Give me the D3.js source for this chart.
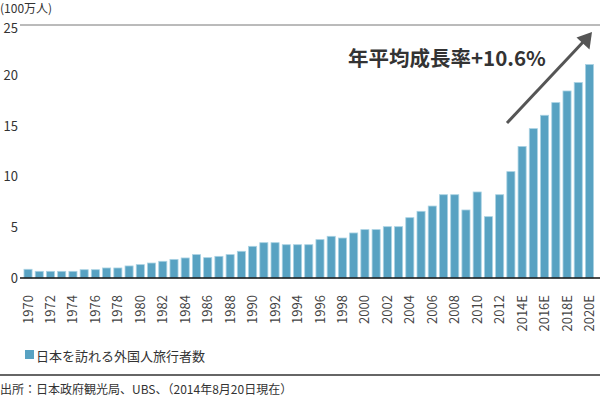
<!DOCTYPE html>
<html>
<head>
<meta charset="utf-8">
<script src="https://cdn.jsdelivr.net/npm/d3@7"></script>
<style>
  body { margin: 0; background: #fff; }
  svg { display: block; font-family: "Noto Sans CJK JP", "Noto Sans", sans-serif; }
</style>
</head>
<body>
<svg id="chart" width="600" height="397"></svg>
<script>
// categories (years), E = estimate
const categories = ["1970","1971","1972","1973","1974","1975","1976","1977","1978","1979",
  "1980","1981","1982","1983","1984","1985","1986","1987","1988","1989",
  "1990","1991","1992","1993","1994","1995","1996","1997","1998","1999",
  "2000","2001","2002","2003","2004","2005","2006","2007","2008","2009",
  "2010","2011","2012","2013","2014E","2015E","2016E","2017E","2018E","2019E","2020E"];

// foreign visitors to Japan, millions
const visitors = [0.86,0.66,0.66,0.66,0.66,0.82,0.82,0.99,0.99,1.19,
  1.32,1.48,1.65,1.84,1.98,2.31,2.01,2.14,2.31,2.64,
  3.13,3.49,3.49,3.29,3.29,3.29,3.79,4.12,3.95,4.45,
  4.78,4.78,5.07,5.07,5.96,6.59,7.11,8.23,8.23,6.72,
  8.50,6.06,8.23,10.51,13.0,14.76,16.08,17.33,18.48,19.31,21.09];

// only every other year gets a label
const tickLabels = ["1970","1972","1974","1976","1978","1980","1982","1984","1986","1988",
  "1990","1992","1994","1996","1998","2000","2002","2004","2006","2008",
  "2010","2012","2014E","2016E","2018E","2020E"];

const yTicks = [0, 5, 10, 15, 20, 25];

const unitLabel = "(100万人)";
const legendLabel = "日本を訪れる外国人旅行者数";
const sourceLabel = "出所：日本政府観光局、UBS、（2014年8月20日現在）";
const growthLabel = "年平均成長率+10.6%";

const svg = d3.select("#chart");

const x = d3.scaleBand()
  .domain(categories)
  .range([22.4, 595.1])
  .paddingInner(0.28)
  .paddingOuter(0.14);

const y = d3.scaleLinear()
  .domain([0, 25])
  .range([278, 25]);

// unit label
svg.append("text")
  .attr("x", 0).attr("y", 7.5)
  .attr("dominant-baseline", "central")
  .attr("font-size", 12).attr("fill", "#333")
  .text(unitLabel);

// top reference line at 25
svg.append("line")
  .attr("x1", 20).attr("x2", 600)
  .attr("y1", y(25)).attr("y2", y(25))
  .attr("stroke", "#777").attr("stroke-width", 1);

// y axis labels
const yAxis = svg.append("g")
  .attr("transform", "translate(18,0)")
  .call(d3.axisLeft(y).tickValues(yTicks).tickSize(0).tickPadding(0));
yAxis.select(".domain").remove();
yAxis.selectAll("text")
  .attr("font-size", 13)
  .attr("font-family", "Noto Sans CJK JP")
  .attr("fill", "#333")
  .attr("dy", d => d === 25 ? "0.6em" : "0.32em");

// bars
svg.append("g")
  .selectAll("rect")
  .data(visitors)
  .join("rect")
    .attr("x", (d, i) => x(categories[i]))
    .attr("width", x.bandwidth())
    .attr("y", d => y(d))
    .attr("height", d => y(0) - y(d))
    .attr("fill", "#58a2c2")
    .attr("stroke", "#a9d2e3")
    .attr("stroke-width", 0.8);

// x axis
const xAxis = svg.append("g")
  .attr("transform", `translate(0,${y(0)})`)
  .call(d3.axisBottom(x).tickValues(tickLabels).tickSize(0));
xAxis.select(".domain").remove();
xAxis.selectAll("text")
  .attr("font-size", 13)
  .attr("font-family", "Noto Sans CJK JP")
  .attr("fill", "#444")
  .attr("text-anchor", "end")
  .attr("transform", "rotate(-90)")
  .attr("x", -17)
  .attr("y", 0)
  .attr("dy", "0.35em");

// baseline
svg.append("line")
  .attr("x1", 20).attr("x2", 600)
  .attr("y1", y(0)).attr("y2", y(0))
  .attr("stroke", "#111").attr("stroke-width", 1.5);

// growth annotation
svg.append("text")
  .attr("x", 348).attr("y", 57)
  .attr("dominant-baseline", "central")
  .attr("font-size", 20.5).attr("font-weight", "bold")
  .attr("fill", "#333")
  .text(growthLabel);

svg.append("line")
  .attr("x1", 507).attr("y1", 123)
  .attr("x2", 585).attr("y2", 40)
  .attr("stroke", "#555").attr("stroke-width", 3);
svg.append("path")
  .attr("d", "M592,32 L589.5,49.5 L576.5,37.5 Z")
  .attr("fill", "#555");

// legend
svg.append("rect")
  .attr("x", 25).attr("y", 350)
  .attr("width", 9).attr("height", 9)
  .attr("fill", "#58a2c2");
svg.append("text")
  .attr("x", 36).attr("y", 355)
  .attr("dominant-baseline", "central")
  .attr("font-size", 13).attr("fill", "#333")
  .text(legendLabel);

// separator and source
svg.append("line")
  .attr("x1", 0).attr("x2", 600)
  .attr("y1", 375).attr("y2", 375)
  .attr("stroke", "#333").attr("stroke-width", 1.5);
svg.append("text")
  .attr("x", 0).attr("y", 388)
  .attr("dominant-baseline", "central")
  .attr("font-size", 12).attr("fill", "#333")
  .text(sourceLabel);
</script>
</body>
</html>
